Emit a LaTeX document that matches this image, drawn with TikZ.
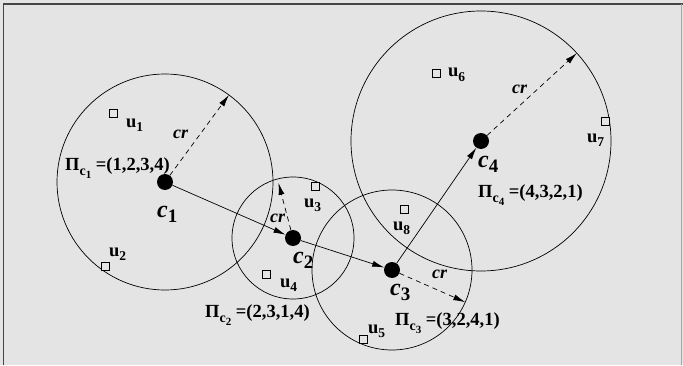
\documentclass[tikz,border=0pt]{standalone}
\usepackage{fontspec}
\setmainfont{Liberation Serif}
\usetikzlibrary{arrows.meta,calc}
\newcommand{\fsz}[1]{\fontsize{#1}{#1}\selectfont}
\newcommand{\ulab}[1]{{\fsz{18.5}\bfseries u}{\fsz{13.5}\bfseries\raisebox{-4.5pt}{#1}}}
\newcommand{\clab}[1]{{\fsz{24}\bfseries\itshape c}{\fsz{19}\bfseries\raisebox{-5pt}{#1}}}
\newcommand{\pilab}[2]{{\fsz{18.5}\bfseries\char"03A0}{\fsz{14}\bfseries\raisebox{-5pt}{c}}{\fsz{11}\bfseries\raisebox{-8.5pt}{#1}}{\fsz{18.5}\bfseries\ =(#2)}}
\newcommand{\crlab}{{\fsz{18}\bfseries\itshape cr}}
\definecolor{bg}{RGB}{228,228,228}
\definecolor{frame}{RGB}{70,70,70}
\tikzset{
  ring/.style={draw=black, line width=0.7pt, fill=none},
  dot/.style={circle, fill=black, minimum size=16pt, inner sep=0pt},
  user/.style={draw=black, line width=0.7pt, minimum size=8pt, inner sep=0pt, fill=bg},
  lab/.style={anchor=base west, inner sep=0pt},
  move/.style={line width=0.7pt, -{Latex[length=12pt,width=6pt]}},
  reach/.style={line width=0.7pt, dashed, dash pattern=on 5pt off 4pt, -{Latex[length=12pt,width=6pt]}},
}
\begin{document}
\begin{tikzpicture}[x=1pt,y=1pt]
\useasboundingbox (0,0) rectangle (683,365);
\fill[bg] (0,0) rectangle (683,365);
\draw[frame, line width=1.3pt] (3.5,0) -- (3.5,361) -- (683,361);
\draw[gray!70, line width=0.6pt] (681,361) -- (681,0);
% circles
\draw[ring] (165,183) circle (108);
\draw[ring] (293,127) circle (61);
\draw[ring] (392,95) circle (80);
\draw[ring] (481,224) circle (130);
% users
\node[user] (u1) at (113,252) {};
\node[user] (u2) at (105,99) {};
\node[user] (u3) at (315,179) {};
\node[user] (u4) at (266,91) {};
\node[user] (u5) at (363,26) {};
\node[user] (u6) at (436,292) {};
\node[user] (u7) at (605,244) {};
\node[user] (u8) at (404,156) {};
\node[lab] (lu1) at (126,238) {\ulab{1}};
\node[lab] (lu2) at (109,109) {\ulab{2}};
\node[lab] (lu3) at (304,158) {\ulab{3}};
\node[lab] (lu4) at (280,78) {\ulab{4}};
\node[lab] (lu5) at (368,32) {\ulab{5}};
\node[lab] (lu6) at (448,288) {\ulab{6}};
\node[lab] (lu7) at (587,223) {\ulab{7}};
\node[lab] (lu8) at (393,135) {\ulab{8}};
% centres
\node[dot] (c1) at (165,183) {};
\node[dot] (c2) at (293,127) {};
\node[dot] (c3) at (392,95) {};
\node[dot] (c4) at (481,224) {};
\coordinate (r1) at ($(c1)+(53.7:108)$);
\coordinate (r2) at ($(c2)+(104.8:57)$);
\coordinate (r3) at ($(c3)+(-23.7:80)$);
\coordinate (r4) at ($(c4)+(42.5:130)$);
\draw[reach] (c1) -- (r1);
\draw[reach] (c2) -- (r2);
\draw[reach] (c3) -- (r3);
\draw[reach] (c4) -- (r4);
\draw[move] (c1) -- (c2);
\draw[move] (c2) -- (c3);
\draw[move] (c3) -- (c4);
% labels
\node[lab] (lc1) at (157,148) {\clab{1}};
\node[lab] (lc2) at (293,102) {\clab{2}};
\node[lab] (lc3) at (390,70) {\clab{3}};
\node[lab] (lc4) at (478,198) {\clab{4}};
\node[lab] (p1) at (65,195) {\pilab{1}{1,2,3,4}};
\node[lab] (p2) at (205,48) {\pilab{2}{2,3,1,4}};
\node[lab] (p3) at (395,40) {\pilab{3}{3,2,4,1}};
\node[lab] (p4) at (478,168) {\pilab{4}{4,3,2,1}};
\node[lab] (cr1) at (173,226) {\crlab};
\node[lab] (cr2) at (270,143) {\crlab};
\node[lab] (cr3) at (432,87) {\crlab};
\node[lab] (cr4) at (512,272) {\crlab};
\end{tikzpicture}
\end{document}
